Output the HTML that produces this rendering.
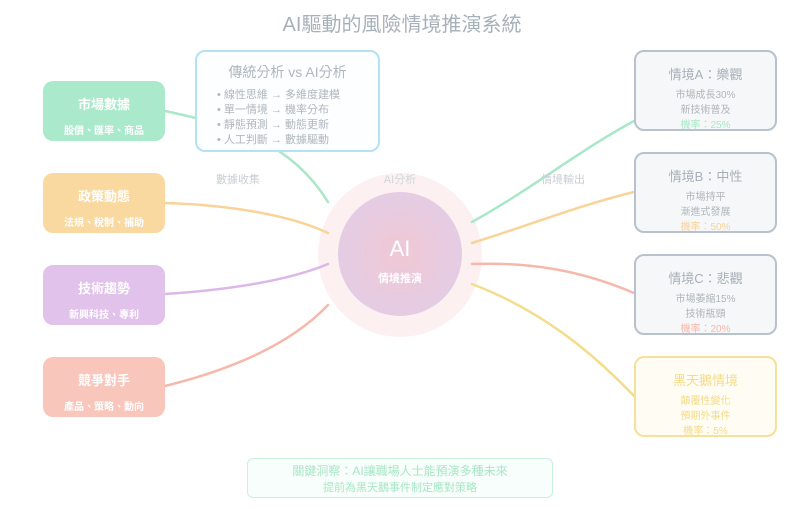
<!DOCTYPE html>
<html><head><meta charset="utf-8"><style>
body{margin:0;width:804px;height:509px;background:#fff;font-family:"Liberation Sans","Noto Sans CJK TC",sans-serif;position:relative;overflow:hidden}
.a{position:absolute;box-sizing:border-box}
.lb{border-radius:10px;color:#fff;text-align:center;font-weight:bold}
.lb .t{font-size:13px;margin-top:13px}
.lb .s{font-size:10px;margin-top:9px}
.rb{border:2px solid #b8c2cd;background:#f5f7f8;border-radius:10px;text-align:center;color:#a8b0b8}
.rb .t{font-size:13px;margin-top:12px}
.rb .s{font-size:10px;line-height:15px;margin-top:5px;color:#b0b6bc}
</style></head><body>
<svg class="a" style="left:0;top:0" width="804" height="509">
<defs><radialGradient id="g" cx="50%" cy="50%" r="50%"><stop offset="0" stop-color="#f0c8d4"/><stop offset="1" stop-color="#e4cce4"/></radialGradient></defs>
<circle cx="400" cy="255" r="82" fill="#fdf0f0"/>
<circle cx="400" cy="254" r="62" fill="url(#g)"/>
<g fill="none" stroke-width="2.5" stroke-linecap="round">
<path d="M165 111 C230 125 290 140 328 202" stroke="#a8e8c8"/>
<path d="M165 203 C230 205 290 215 328 233" stroke="#f9d49a"/>
<path d="M165 294 C230 290 290 280 328 264" stroke="#dcb8e8"/>
<path d="M165 386 C230 370 290 345 328 305" stroke="#f7b8ac"/>
<path d="M472 222 C530 190 580 150 634 121" stroke="#a8e8c8"/>
<path d="M472 243 C530 225 580 205 634 192" stroke="#f9d49a"/>
<path d="M472 264 C530 262 580 270 634 293" stroke="#f7b8ac"/>
<path d="M472 284 C540 310 590 350 634 396" stroke="#f3dc8a"/>
</g>
</svg>
<div class="a" style="left:0;top:8px;width:804px;text-align:center;font-size:20px;color:#a8b1ba">AI驅動的風險情境推演系統</div>
<div class="a lb" style="left:43px;top:81px;width:122px;height:60px;background:#abe9cc"><div class="t">市場數據</div><div class="s">股價、匯率、商品</div></div>
<div class="a lb" style="left:43px;top:173px;width:122px;height:60px;background:#fad9a0"><div class="t">政策動態</div><div class="s">法規、稅制、補助</div></div>
<div class="a lb" style="left:43px;top:265px;width:122px;height:60px;background:#e1c2eb"><div class="t">技術趨勢</div><div class="s">新興科技、專利</div></div>
<div class="a lb" style="left:43px;top:357px;width:122px;height:60px;background:#f9c6bc"><div class="t">競爭對手</div><div class="s">產品、策略、動向</div></div>
<div class="a" style="left:195px;top:50px;width:185px;height:102px;border:2px solid #b3e2f4;border-radius:10px;background:#fcfeff;color:#b0b7be">
<div style="text-align:center;font-size:14px;margin-top:10px">傳統分析 vs AI分析</div>
<div style="font-size:11px;line-height:15px;margin:6px 0 0 20px">• 線性思維 → 多維度建模<br>• 單一情境 → 機率分布<br>• 靜態預測 → 動態更新<br>• 人工判斷 → 數據驅動</div></div>
<div class="a" style="left:200px;top:171px;width:76px;text-align:center;font-size:11px;color:#c8ced4">數據收集</div>
<div class="a" style="left:362px;top:171px;width:76px;text-align:center;font-size:11px;color:#d0d6dc">AI分析</div>
<div class="a" style="left:525px;top:171px;width:76px;text-align:center;font-size:11px;color:#c8ced4">情境輸出</div>
<div class="a" style="left:338px;top:236px;width:124px;text-align:center;color:#fff;font-size:22px">AI</div>
<div class="a" style="left:338px;top:270px;width:124px;text-align:center;color:#fff;font-size:11px;font-weight:bold">情境推演</div>
<div class="a rb" style="left:634px;top:50px;width:143px;height:81px"><div class="t">情境A：樂觀</div><div class="s">市場成長30%<br>新技術普及<br><span style="color:#a8e8c8">機率：25%</span></div></div>
<div class="a rb" style="left:634px;top:152px;width:143px;height:81px"><div class="t">情境B：中性</div><div class="s">市場持平<br>漸進式發展<br><span style="color:#f9d49a">機率：50%</span></div></div>
<div class="a rb" style="left:634px;top:254px;width:143px;height:81px"><div class="t">情境C：悲觀</div><div class="s">市場萎縮15%<br>技術瓶頸<br><span style="color:#f7b8ac">機率：20%</span></div></div>
<div class="a rb" style="left:634px;top:356px;width:143px;height:81px;border-color:#f6e09a;background:#fffcf3;color:#f3dc8a"><div class="t">黑天鵝情境</div><div class="s" style="color:#f3dc8a">顛覆性變化<br>預期外事件<br>機率：5%</div></div>
<div class="a" style="left:247px;top:458px;width:306px;height:40px;border:1.5px solid #c8f0dc;border-radius:6px;background:#f8fefb;text-align:center;color:#a8e6c6;font-size:12px;line-height:16px;padding-top:4px">關鍵洞察：AI讓職場人士能預演多種未來<br><span style="font-size:11px">提前為黑天鵝事件制定應對策略</span></div>
</body></html>
